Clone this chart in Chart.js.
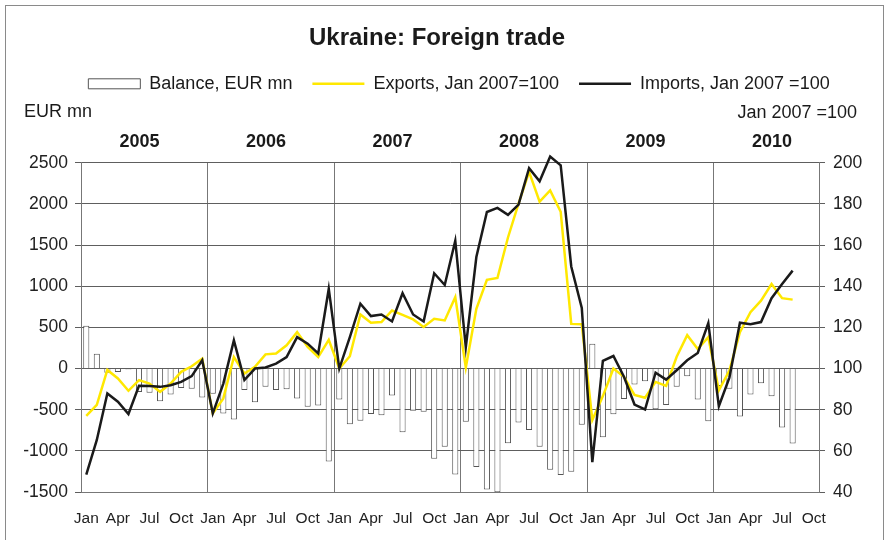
<!DOCTYPE html>
<html>
<head>
<meta charset="utf-8">
<title>Ukraine: Foreign trade</title>
<script src="https://cdn.jsdelivr.net/npm/chart.js@4.4.0/dist/chart.umd.min.js"></script>
<style>
    html, body { margin: 0; padding: 0; background: #fff; }
    #chart-container { width: 888px; height: 540px; }
</style>
</head>
<body>
<div id="chart-container"><canvas id="myChart" width="888" height="540"></canvas></div>
<script>
// monthly series, Jan 2005 .. Aug 2010 (axis runs to Oct 2010)
var years = ['2005', '2006', '2007', '2008', '2009', '2010'];
var months = ['Jan', 'Feb', 'Mar', 'Apr', 'May', 'Jun', 'Jul', 'Aug', 'Sep', 'Oct', 'Nov', 'Dec'];
var monthCount = 70;

// trade balance, EUR mn
var balance = [
    520, 180, -50, -42, -12, -285, -295, -398, -315, -235, -245, -353,
    -305, -545, -620, -260, -410, -220, -260, -250, -365, -465, -450, -1130,
    -375, -677, -633, -552, -568, -326, -774, -512, -524, -1096, -951, -1286,
    -645, -1197, -1471, -1503, -907, -657, -746, -951, -1229, -1294, -1253, -682,
    300, -834, -556, -371, -193, -153, -496, -443, -222, -93, -375, -640,
    -212, -246, -584, -315, -180, -337, -715, -910
];
// exports, Jan 2007 = 100
var exportsIdx = [
    77, 82.4, 99.3, 95.2, 89.2, 94.4, 92.7, 88.7, 92.7, 98.4, 101.1, 104.8,
    78.2, 85.5, 105.6, 97.6, 100.8, 106.9, 107.3, 111.3, 117.7, 110.5, 105.6, 114,
    100, 106, 126.3, 122.3, 122.6, 128.2, 126.1, 123.9, 120.2, 124.2, 123.4, 134.7,
    100.5, 129, 143.1, 144, 163.7, 180.2, 195.6, 181.1, 186.6, 176.2, 121.7, 121.5,
    75, 86.6, 100, 96, 87.2, 85.8, 93.5, 91.6, 105.7, 116.2, 109.5, 115.2,
    89.4, 99, 117.7, 127.4, 133, 141.1, 134.2, 133.5
];
// imports, Jan 2007 = 100
var importsIdx = [
    48.4, 65.3, 87.9, 83.9, 77.9, 91.6, 91.5, 91.1, 91.9, 93.5, 96.3, 104,
    78.2, 92.7, 113.7, 94.4, 100, 100.5, 102.4, 105.6, 115.3, 112.1, 107.3, 138.7,
    100, 115.3, 131.5, 125.5, 126.3, 122.9, 136.6, 126.3, 122.9, 146.3, 140.6, 162.1,
    110.4, 154.2, 176.1, 178.1, 174.7, 179.7, 197.4, 191, 203, 198.8, 149.6, 129.5,
    54.5, 103.7, 106.1, 96, 82.5, 80.1, 98, 94.6, 99.2, 104, 107.6, 122.1,
    81.7, 95.6, 122.3, 121.5, 122.6, 134.2, 141.1, 147.6
];
// axis ranges: [min, max, step]
var leftAxis = [-1500, 2500, 500];
var rightAxis = [40, 200, 20];

var labels = [];
for (var i = 0; i < monthCount; i++) {
    labels.push(months[i % 12]);
}

Chart.defaults.font.family = '"Liberation Sans", Arial, sans-serif';
Chart.defaults.color = '#1a1a1a';

var extrasPlugin = {
    id: 'extras',
    beforeDraw: function (chart) {
        var ctx = chart.ctx;
        ctx.save();
        ctx.fillStyle = '#fff';
        ctx.fillRect(0, 0, chart.width, chart.height);
        ctx.strokeStyle = '#8a8a8a';
        ctx.lineWidth = 1;
        ctx.strokeRect(5.5, 5.5, 878, 600);
        ctx.restore();
    },
    afterLayout: function (chart) {
        // legend sits a bit right of the title
        chart.legend.left += 22;
        chart.legend.right += 22;
    },
    afterDraw: function (chart) {
        var ctx = chart.ctx;
        ctx.save();
        ctx.font = '18px "Liberation Sans", Arial, sans-serif';
        ctx.fillStyle = '#1a1a1a';
        ctx.textBaseline = 'middle';
        ctx.textAlign = 'left';
        ctx.fillText('EUR mn', 24, 112);
        ctx.textAlign = 'right';
        ctx.fillText('Jan 2007 =100', 857, 113);
        ctx.restore();
    }
};

var ctx = document.getElementById('myChart');
var myChart = new Chart(ctx, {
    type: 'bar',
    data: {
        labels: labels,
        datasets: [{
            label: 'Balance, EUR mn',
            data: balance,
            yAxisID: 'y',
            backgroundColor: '#ffffff',
            borderColor: '#555555',
            borderWidth: 1,
            barPercentage: 0.58,
            categoryPercentage: 1.0,
            pointStyle: 'rect',
            order: 2
        }, {
            type: 'line',
            label: 'Exports, Jan 2007=100',
            data: exportsIdx,
            yAxisID: 'y2',
            borderColor: '#ffe800',
            backgroundColor: '#ffe800',
            borderWidth: 2.5,
            pointRadius: 0,
            tension: 0,
            pointStyle: 'line',
            order: 1
        }, {
            type: 'line',
            label: 'Imports, Jan 2007 =100',
            data: importsIdx,
            yAxisID: 'y2',
            borderColor: '#1a1a1a',
            backgroundColor: '#1a1a1a',
            borderWidth: 2.5,
            pointRadius: 0,
            tension: 0,
            pointStyle: 'line',
            clip: 10,
            order: 0
        }]
    },
    options: {
        responsive: false,
        animation: false,
        devicePixelRatio: 1,
        layout: { padding: { left: 0, right: 14, top: 0, bottom: 0 } },
        plugins: {
            title: {
                display: true,
                text: 'Ukraine: Foreign trade',
                color: '#1a1a1a',
                font: { size: 24, weight: 'bold' },
                padding: { top: 24, bottom: 2 }
            },
            legend: {
                display: true,
                position: 'top',
                labels: {
                    usePointStyle: true,
                    pointStyleWidth: 52,
                    boxHeight: 10,
                    padding: 20,
                    color: '#1a1a1a',
                    font: { size: 18 },
                    sort: function (a, b) { return a.datasetIndex - b.datasetIndex; }
                }
            },
            tooltip: { enabled: false }
        },
        scales: {
            x: {
                type: 'category',
                offset: true,
                grid: {
                    offset: true,
                    drawTicks: false,
                    lineWidth: 1,
                    color: function (c) { return c.index % 12 === 0 ? '#777' : 'rgba(0,0,0,0)'; }
                },
                border: { display: true, color: '#777' },
                ticks: {
                    autoSkip: false,
                    maxRotation: 0,
                    padding: 17,
                    color: '#222',
                    font: { size: 15.5 },
                    callback: function (val, idx) {
                        return idx % 3 === 0 ? this.getLabelForValue(val) : '';
                    }
                },
                afterFit: function (scale) { scale.height = 48; }
            },
            x2: {
                type: 'category',
                labels: labels,
                position: 'top',
                offset: true,
                grid: { display: false, drawTicks: false },
                border: { display: false },
                ticks: {
                    autoSkip: false,
                    maxRotation: 0,
                    padding: 10,
                    labelOffset: -10,
                    color: '#1a1a1a',
                    font: { size: 18, weight: 'bold' },
                    callback: function (val, idx) {
                        return idx % 12 === 6 ? years[Math.floor(idx / 12)] : '';
                    }
                },
                afterFit: function (scale) { scale.height = 60; }
            },
            y: {
                position: 'left',
                min: leftAxis[0],
                max: leftAxis[1],
                grid: { color: '#5e5e5e', lineWidth: 1, tickLength: 6, tickColor: '#5e5e5e' },
                border: { display: true, color: '#777' },
                ticks: {
                    stepSize: leftAxis[2],
                    padding: 7,
                    color: '#222',
                    font: { size: 17.5 },
                    callback: function (v) { return String(v); }
                },
                afterFit: function (scale) { scale.width = 81; }
            },
            y2: {
                position: 'right',
                min: rightAxis[0],
                max: rightAxis[1],
                grid: { drawOnChartArea: false, tickLength: 6, tickColor: '#5e5e5e' },
                border: { display: true, color: '#777' },
                ticks: {
                    stepSize: rightAxis[2],
                    padding: 8,
                    color: '#222',
                    font: { size: 17.5 },
                    callback: function (v) { return String(v); }
                },
                afterFit: function (scale) { scale.width = 55; }
            }
        }
    },
    plugins: [extrasPlugin]
});
</script>
</body>
</html>
